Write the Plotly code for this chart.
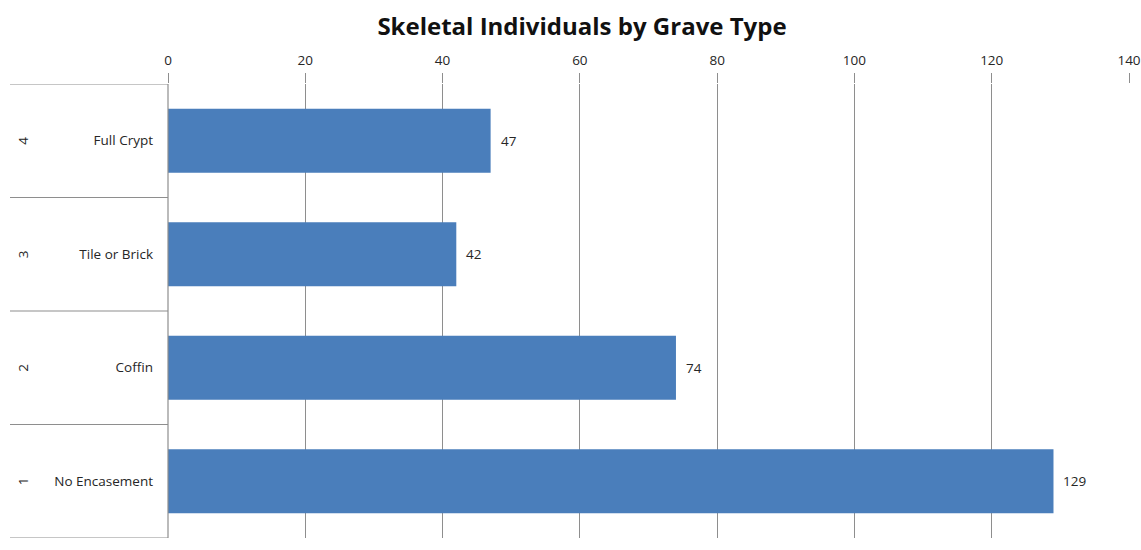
import plotly.graph_objects as go

categories = ["No Encasement", "Coffin", "Tile or Brick", "Full Crypt"]
codes = ["1", "2", "3", "4"]
values = [129, 74, 42, 47]
x_ticks = [0, 20, 40, 60, 80, 100, 120, 140]

W, H = 1141, 550
ML, MR, MT, MB = 168, 12, 84, 12
pw = W - ML - MR

font_family = "Open Sans"
bar_color = "#4A7EBB"
grid_color = "#8E8E8E"
text_color = "#262626"
fs = 13.5

fig = go.Figure()
fig.add_trace(go.Bar(
    x=values, y=categories, orientation="h",
    marker=dict(color=bar_color, line=dict(width=0)),
    hoverinfo="x+y",
))

shapes = []
annotations = []
left_px = 10
x_left = (left_px - ML) / pw
n = len(categories)
for i in range(n + 1):
    yb = i - 0.5
    shapes.append(dict(type="line", xref="paper", yref="y", x0=x_left, x1=0,
                       y0=yb, y1=yb, line=dict(color=grid_color, width=1.2)))
shapes.append(dict(type="line", xref="paper", yref="y", x0=0, x1=0,
                   y0=-0.5, y1=n - 0.5, line=dict(color=grid_color, width=1.2)))

for i, (c, code, v) in enumerate(zip(categories, codes, values)):
    annotations.append(dict(x=(23 - ML) / pw, y=c, xref="paper", yref="y",
                            text=code, showarrow=False, textangle=-90,
                            xanchor="center", yanchor="middle",
                            font=dict(family=font_family, size=fs, color=text_color)))
    annotations.append(dict(x=v, y=c, xref="x", yref="y", text=str(v),
                            showarrow=False, xanchor="left", xshift=8,
                            font=dict(family=font_family, size=fs, color=text_color)))

fig.update_layout(
    width=W, height=H,
    margin=dict(l=ML, r=MR, t=MT, b=MB, autoexpand=False),
    paper_bgcolor="white", plot_bgcolor="white",
    title=dict(text="<b>Skeletal Individuals by Grave Type</b>", x=582 / W, xanchor="center",
               y=1 - 27 / H, yanchor="middle",
               font=dict(family=font_family, size=24, color="#111111")),
    bargap=0.436,
    showlegend=False,
    shapes=shapes,
    annotations=annotations,
    xaxis=dict(side="top", range=[0, 140], tickvals=x_ticks,
               ticktext=[str(t) for t in x_ticks], automargin=False,
               showgrid=True, gridcolor=grid_color, gridwidth=1.2,
               zeroline=False, showline=False,
               ticks="outside", ticklen=10, tickcolor=grid_color, tickwidth=1.2,
               ticklabelstandoff=3,
               tickfont=dict(family=font_family, size=fs, color=text_color)),
    yaxis=dict(type="category", categoryorder="array", categoryarray=categories,
               range=[-0.5, n - 0.5], showgrid=False, zeroline=False, showline=False,
               ticks="", ticklabelstandoff=14, automargin=False,
               tickfont=dict(family=font_family, size=fs, color=text_color)),
)

fig.write_html("out.html")
